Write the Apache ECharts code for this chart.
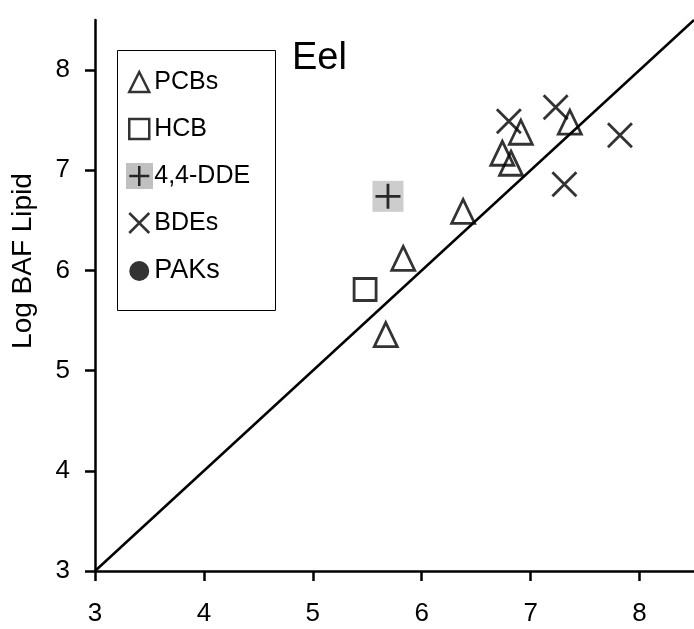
<!DOCTYPE html>
<html>
<head>
<meta charset="utf-8">
<script src="https://cdn.jsdelivr.net/npm/echarts@6/dist/echarts.min.js"></script>
<style>html,body{margin:0;padding:0;background:#fff}#c{width:694px;height:629px}</style>
</head>
<body>
<div id="c"></div>
<script>
// ---- data ----
const pcbX = [5.67, 5.83, 6.38, 6.74, 6.82, 6.91, 7.36];
const pcbY = [5.36, 6.12, 6.59, 7.17, 7.07, 7.38, 7.48];
const hcbX = [5.48];
const hcbY = [5.81];
const ddeX = [5.69];
const ddeY = [6.74];
const bdeX = [6.80, 7.23, 7.82, 7.31];
const bdeY = [7.49, 7.63, 7.35, 6.86];
const pakX = [];
const pakY = [];
const lineEnds = [3, 8.5];          // 1:1 line
const xTicks = [3, 4, 5, 6, 7, 8];
const yTicks = [3, 4, 5, 6, 7, 8];
const legendNames = ['PCBs', 'HCB', '4,4-DDE', 'BDEs', 'PAKs'];

const zip = (a, b) => a.map((v, i) => [v, b[i]]);
const FONT = 'Liberation Sans, Arial, sans-serif';

const chart = echarts.init(document.getElementById('c'));
const axisCommon = {
  type: 'value', interval: 1,
  splitLine: { show: false },
  axisLine: { show: true, lineStyle: { color: '#000', width: 2.5 } },
  axisTick: { show: true, inside: false, length: 10, lineStyle: { color: '#000', width: 2.5 } },
  axisLabel: { color: '#000', fontSize: 26, fontFamily: FONT }
};
const stroke = { color: 'rgba(0,0,0,0)', borderColor: '#000', borderWidth: 2.8 };

chart.setOption({
  animation: false,
  backgroundColor: '#fff',
  grid: { left: 95, top: 20, right: -3, bottom: 58 },
  xAxis: Object.assign({}, axisCommon, {
    min: 3, max: 8.5,
    axisTick: Object.assign({}, axisCommon.axisTick, { customValues: xTicks }),
    axisLabel: Object.assign({}, axisCommon.axisLabel, { customValues: xTicks, margin: 30 })
  }),
  yAxis: Object.assign({}, axisCommon, {
    min: 3, max: 8.5,
    axisTick: Object.assign({}, axisCommon.axisTick, { customValues: yTicks }),
    axisLabel: Object.assign({}, axisCommon.axisLabel, { customValues: yTicks, margin: 25 })
  }),
  legend: {
    orient: 'vertical', left: 128, top: 69.5, padding: 0,
    itemWidth: 20, itemHeight: 20, itemGap: 22,
    itemStyle: { borderWidth: 2.5 },
    textStyle: { color: '#000', fontSize: 25, fontFamily: FONT },
    data: legendNames.map(n => n === 'PAKs'
      ? { name: n, textStyle: { fontSize: 27 } } : { name: n })
  },
  graphic: [
    { type: 'rect', z: 0, shape: { x: 117.5, y: 50.5, width: 158, height: 260 },
      style: { fill: '#fff', stroke: '#000', lineWidth: 1 } },
    { type: 'rect', z: 1, shape: { x: 126, y: 163, width: 27, height: 26 },
      style: { fill: '#c0c0c0' } },
    { type: 'text', z: 5, x: 292, y: 59,
      style: { text: 'Eel', fontSize: 38, fontFamily: FONT, fill: '#000', verticalAlign: 'middle' } },
    { type: 'text', z: 5, x: 23, y: 261, rotation: Math.PI / 2,
      style: { text: 'Log BAF Lipid', fontSize: 28, fontFamily: FONT, fill: '#000',
               align: 'center', verticalAlign: 'middle' } }
  ],
  series: [
    { type: 'line', data: zip(lineEnds, lineEnds), showSymbol: false, symbol: 'none',
      lineStyle: { color: '#000', width: 2.5 }, z: 1, silent: true },
    { name: 'ddebg', type: 'scatter', data: zip(ddeX, ddeY), symbol: 'rect', symbolSize: 31,
      itemStyle: { color: '#c0c0c0' }, z: 2 },
    { name: 'PCBs', type: 'scatter', data: zip(pcbX, pcbY), symbol: 'triangle', symbolSize: [23, 24],
      itemStyle: { color: 'rgba(255,255,255,0)', borderColor: '#000', borderWidth: 2.8 }, z: 3 },
    { name: 'HCB', type: 'scatter', data: zip(hcbX, hcbY), symbol: 'rect', symbolSize: 22,
      itemStyle: { color: '#fff', borderColor: '#000', borderWidth: 2.8 }, z: 3 },
    { name: '4,4-DDE', type: 'scatter', data: zip(ddeX, ddeY),
      symbol: 'path://M12,0L12,24M0,12L24,12', symbolSize: 25, itemStyle: stroke, z: 3 },
    { name: 'BDEs', type: 'scatter', data: zip(bdeX, bdeY),
      symbol: 'path://M0,0L24,24M24,0L0,24', symbolSize: 24, itemStyle: stroke, z: 3 },
    { name: 'PAKs', type: 'scatter', data: zip(pakX, pakY), symbol: 'circle', symbolSize: 18,
      itemStyle: { color: '#000' }, z: 3 }
  ]
});
</script>
</body>
</html>
